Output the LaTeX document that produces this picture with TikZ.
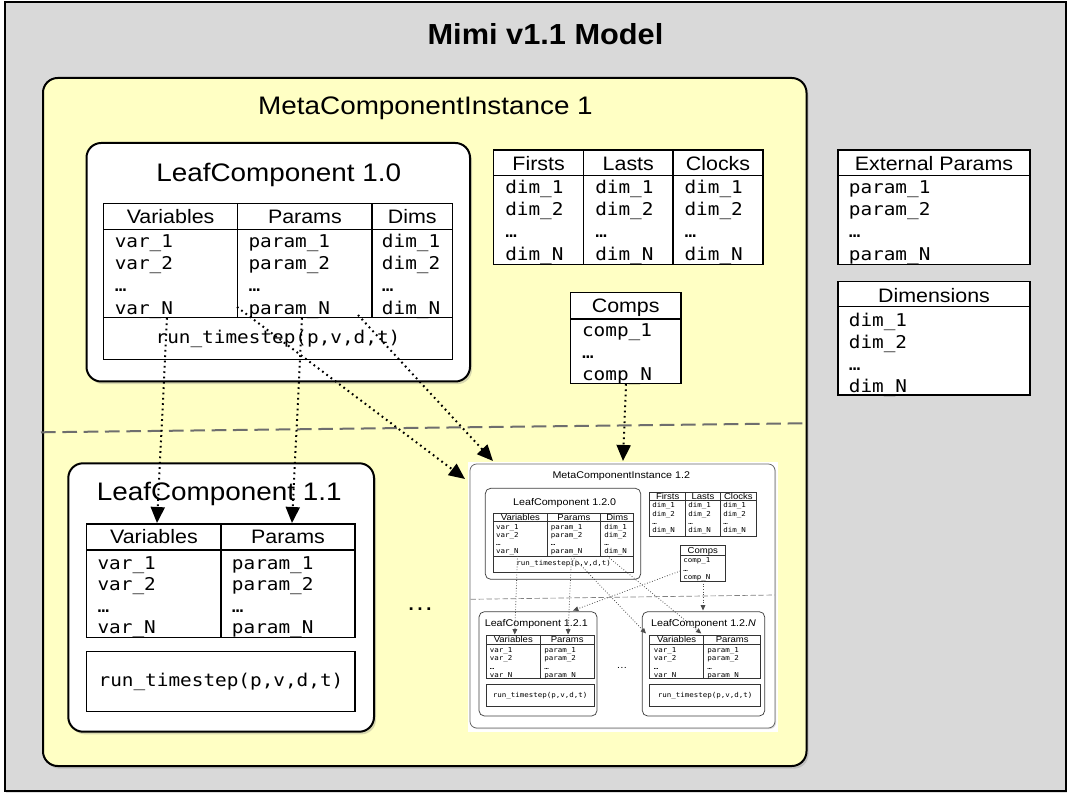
\documentclass[tikz,border=0pt]{standalone}
\usepackage{fontspec}
\setmainfont{Liberation Sans}
\newfontfamily\monof{DejaVu Sans Mono}
\usepackage{graphicx}
\usetikzlibrary{fit,shadows,arrows.meta}

\definecolor{outergray}{HTML}{D9D9D9}
\definecolor{mciyellow}{HTML}{FFFFC4}
\definecolor{dashgray}{HTML}{6E6E6E}

\newcommand\sxt[1]{\scalebox{1.1}[1]{#1}}
\newcommand\fTitle{\fontsize{21.75pt}{26pt}\selectfont\bfseries}
\newcommand\fBig{\fontsize{19pt}{23pt}\selectfont}
\newcommand\fHead{\fontsize{14.6pt}{17pt}\selectfont}
\newcommand\fMono{\monof\fontsize{13.2pt}{16pt}\selectfont}
\newcommand\fSBig{\fontsize{7.3pt}{9pt}\selectfont}
\newcommand\fSHead{\fontsize{6.5pt}{8pt}\selectfont}
\newcommand\fSMono{\monof\fontsize{5.1pt}{6pt}\selectfont}

\newcommand\itemrows[6]{\foreach \itm [count=\i] in {#6}{\node[#5, anchor=base west, inner sep=0pt] (#1\i) at (#2,{#3+(\i-1)*(#4)}) {\sxt{\itm}};}}

\begin{document}
\begin{tikzpicture}[x=0.75pt,y=-0.75pt,
  outerbox/.style={draw, line width=1.5pt, fill=outergray, inner sep=0pt,
    drop shadow={shadow xshift=1pt, shadow yshift=-2pt, opacity=0.25}},
  mcibox/.style={draw, line width=1.5pt, fill=mciyellow, rounded corners=11pt, inner sep=0pt,
    drop shadow={shadow xshift=1.5pt, shadow yshift=-2pt, opacity=0.3}},
  leafbox/.style={draw, line width=1.5pt, fill=white, rounded corners=11pt, inner sep=0pt,
    drop shadow={shadow xshift=1.5pt, shadow yshift=-2pt, opacity=0.3}},
  cell/.style={draw, line width=1.1pt, fill=white, inner sep=0pt},
  tline/.style={line width=1.1pt},
  sleaf/.style={draw=black!75, line width=0.55pt, fill=white, rounded corners=4pt, inner sep=0pt},
  scell/.style={draw=black!80, line width=0.45pt, fill=white, inner sep=0pt},
  stline/.style={draw=black!80, line width=0.45pt},
  sepline/.style={draw=dashgray, line width=1.5pt, dash pattern=on 11pt off 5pt},
  ssepline/.style={draw=black!50, line width=0.5pt, dash pattern=on 4pt off 2pt},
  link/.style={line width=1.5pt, dash pattern=on 1.3pt off 2.7pt, -{Triangle[length=12pt,width=10.5pt]}},
  slink/.style={draw=black!70, line width=0.6pt, dash pattern=on 0.6pt off 1.4pt, -{Triangle[length=4pt,width=3.5pt]}},
  big/.style={font=\fBig, inner sep=0pt},
  hd/.style={font=\fHead, anchor=base, inner sep=0pt},
  mono/.style={font=\fMono},
  shd/.style={font=\fSHead, anchor=base, inner sep=0pt},
  smono/.style={font=\fSMono},
]
\useasboundingbox (0,0) rectangle (1072,802);
\fill[white] (0,0) rectangle (1072,802);

% outer model box
\node[outerbox, fit={(4.5,2)(1065.5,790.5)}] (model) {};
\node[font=\fTitle, inner sep=0pt] (title) at (545.5,34.5) {\scalebox{1.06}[1]{Mimi v1.1 Model}};

% MetaComponentInstance 1
\node[mcibox, fit={(43,78)(806.5,766)}] (mci1) {};
\node[big, anchor=base] (mci1t) at (425.5,114.3) {\sxt{MetaComponentInstance 1}};

% separator
\coordinate (sepL) at (41,432.3);
\coordinate (sepR) at (805.5,423.3);
\draw[sepline] (sepL) -- (sepR);

% LeafComponent 1.0
\node[leafbox, fit={(86.5,143)(470,381.5)}] (lc10) {};
\node[big, anchor=base] (lc10t) at (278.7,181.7) {\sxt{LeafComponent 1.0}};
\node[cell, fit={(103.5,203.5)(452.5,229.5)}] (lc10h) {};
\node[cell, fit={(103.5,229.5)(452.5,317.5)}] (lc10b) {};
\node[cell, fit={(103.5,317.5)(452.5,359.5)}] (lc10r) {};
\draw[tline] (237.7,203.5) -- (237.7,317.5);
\draw[tline] (372,203.5) -- (372,317.5);
\node[hd] (lc10h1) at (170.6,223.3) {\sxt{Variables}};
\node[hd] (lc10h2) at (304.9,223.3) {\sxt{Params}};
\node[hd] (lc10h3) at (412.3,223.3) {\sxt{Dims}};
\itemrows{lc10v}{114.5}{247.5}{22.2}{mono}{var\_1,var\_2,…,var\_N}
\itemrows{lc10p}{248.3}{247.5}{22.2}{mono}{param\_1,param\_2,…,param\_N}
\itemrows{lc10d}{381.7}{247.5}{22.2}{mono}{dim\_1,dim\_2,…,dim\_N}
\node[font=\fMono, inner sep=0pt] (lc10rt) at (278,338.5) {\sxt{run\_timestep(p,v,d,t)}};

% LeafComponent 1.1
\node[leafbox, fit={(68.3,463.3)(374,731.7)}] (lc11) {};
\node[big, anchor=base] (lc11t) at (219.2,500) {\sxt{LeafComponent 1.1}};
\node[cell, fit={(86.7,524)(355,550)}] (lc11h) {};
\node[cell, fit={(86.7,550)(355,637.7)}] (lc11b) {};
\draw[tline] (221,524) -- (221,637.7);
\node[hd] (lc11h1) at (153.9,543.3) {\sxt{Variables}};
\node[hd] (lc11h2) at (288,543.3) {\sxt{Params}};
\itemrows{lc11v}{97.3}{569}{21.5}{mono}{var\_1,var\_2,…,var\_N}
\itemrows{lc11p}{231.7}{569}{21.5}{mono}{param\_1,param\_2,…,param\_N}
\node[cell, fit={(86.7,651.7)(355,711.7)}] (lc11r) {};
\node[font=\fMono, inner sep=0pt] (lc11rt) at (221,682) {\sxt{run\_timestep(p,v,d,t)}};

\node[big, anchor=base] (dots) at (420,610) {\sxt{…}};

% Firsts / Lasts / Clocks
\node[cell, fit={(493.6,150)(763.2,175.7)}] (flch) {};
\node[cell, fit={(493.6,175.7)(763.2,264.3)}] (flcb) {};
\draw[tline] (583.6,150) -- (583.6,264.3);
\draw[tline] (672.9,150) -- (672.9,264.3);
\node[hd] (flch1) at (538.6,170.7) {\sxt{Firsts}};
\node[hd] (flch2) at (628.3,170.7) {\sxt{Lasts}};
\node[hd] (flch3) at (718,170.7) {\sxt{Clocks}};
\itemrows{fst}{505}{193.5}{22.2}{mono}{dim\_1,dim\_2,…,dim\_N}
\itemrows{lst}{595}{193.5}{22.2}{mono}{dim\_1,dim\_2,…,dim\_N}
\itemrows{clk}{684.3}{193.5}{22.2}{mono}{dim\_1,dim\_2,…,dim\_N}

% Comps
\node[cell, fit={(570.4,292.7)(681,319)}] (compsh) {};
\node[cell, fit={(570.4,319)(681,383.3)}] (compsb) {};
\node[hd] (compsht) at (625.7,312.3) {\sxt{Comps}};
\itemrows{cmp}{581.8}{337}{22}{mono}{comp\_1,…,comp\_N}

% External Params
\node[cell, fit={(838,150)(1030,175.7)}] (exth) {};
\node[cell, fit={(838,175.7)(1030,264.3)}] (extb) {};
\node[hd] (extht) at (934,170.7) {\sxt{External Params}};
\itemrows{ext}{848.6}{193.5}{22.2}{mono}{param\_1,param\_2,…,param\_N}

% Dimensions
\node[cell, fit={(838,281.7)(1030,306.7)}] (dimh) {};
\node[cell, fit={(838,306.7)(1030,395)}] (dimb) {};
\node[hd] (dimht) at (934,302.3) {\sxt{Dimensions}};
\itemrows{dms}{848.6}{326.5}{21.9}{mono}{dim\_1,dim\_2,…,dim\_N}

% ---------- MetaComponentInstance 1.2 (miniature) ----------
\node[fill=white, inner sep=0pt, fit={(468,462)(778,731.5)}] (mci12bg) {};
\node[draw=black!60, line width=0.6pt, fill=white, rounded corners=5pt, inner sep=0pt,
  drop shadow={shadow xshift=0.8pt, shadow yshift=-0.8pt, opacity=0.3},
  fit={(470,464)(775,728)}] (mci12) {};
\node[font=\fSBig, anchor=base, inner sep=0pt] (mci12t) at (621.3,478.5) {\sxt{MetaComponentInstance 1.2}};

% LC 1.2.0
\node[sleaf, fit={(485.3,488.3)(640.7,579.3)}] (s120) {};
\node[font=\fSBig, anchor=base, inner sep=0pt] (s120t) at (564.7,505.8) {\sxt{LeafComponent 1.2.0}};
\node[scell, fit={(493.7,513.3)(633.7,521.7)}] (s120h) {};
\node[scell, fit={(493.7,521.7)(633.7,556)}] (s120b) {};
\node[scell, fit={(493.7,556)(633.7,572.3)}] (s120r) {};
\draw[stline] (547,513.3) -- (547,556);
\draw[stline] (600.7,513.3) -- (600.7,556);
\node[shd] (s120h1) at (520.4,520) {\sxt{Variables}};
\node[shd] (s120h2) at (573.9,520) {\sxt{Params}};
\node[shd] (s120h3) at (617.2,520) {\sxt{Dims}};
\itemrows{s120v}{495.8}{529}{8.3}{smono}{var\_1,var\_2,…,var\_N}
\itemrows{s120p}{550.5}{529}{8.3}{smono}{param\_1,param\_2,…,param\_N}
\itemrows{s120d}{604}{529}{8.3}{smono}{dim\_1,dim\_2,…,dim\_N}
\node[font=\fSMono, inner sep=0pt] (s120rt) at (563.7,564) {\sxt{run\_timestep(p,v,d,t)}};

% small Firsts / Lasts / Clocks
\node[scell, fit={(649.7,492.3)(756.3,500.7)}] (sflch) {};
\node[scell, fit={(649.7,500.7)(756.3,536)}] (sflcb) {};
\draw[stline] (685.7,492.3) -- (685.7,536);
\draw[stline] (720.3,492.3) -- (720.3,536);
\node[shd] (sflch1) at (667.7,499) {\sxt{Firsts}};
\node[shd] (sflch2) at (703,499) {\sxt{Lasts}};
\node[shd] (sflch3) at (738.3,499) {\sxt{Clocks}};
\itemrows{sfst}{652}{508}{8.3}{smono}{dim\_1,dim\_2,…,dim\_N}
\itemrows{slst}{688.2}{508}{8.3}{smono}{dim\_1,dim\_2,…,dim\_N}
\itemrows{sclk}{723}{508}{8.3}{smono}{dim\_1,dim\_2,…,dim\_N}

% small Comps
\node[scell, fit={(680.3,545.7)(725.3,555)}] (scompsh) {};
\node[scell, fit={(680.3,555)(725.3,581)}] (scompsb) {};
\node[shd] (scompsht) at (702.8,553.5) {\sxt{Comps}};
\itemrows{scmp}{683}{562.5}{8.5}{smono}{comp\_1,…,comp\_N}

% small separator
\coordinate (ssepL) at (470.5,599.3);
\coordinate (ssepR) at (774.5,595);
\draw[ssepline] (ssepL) -- (ssepR);

% LC 1.2.1
\node[sleaf, fit={(479,611.7)(597,716)}] (s121) {};
\node[font=\fSBig, anchor=base, inner sep=0pt] (s121t) at (536.3,626.8) {\sxt{LeafComponent 1.2.1}};
\node[scell, fit={(486.3,635)(594,644.3)}] (s121h) {};
\node[scell, fit={(486.3,644.3)(594,678.3)}] (s121b) {};
\draw[stline] (540.3,635) -- (540.3,678.3);
\node[shd] (s121h1) at (513.3,642.5) {\sxt{Variables}};
\node[shd] (s121h2) at (567.2,642.5) {\sxt{Params}};
\itemrows{s121v}{489.7}{652.4}{8.3}{smono}{var\_1,var\_2,…,var\_N}
\itemrows{s121p}{544}{652.4}{8.3}{smono}{param\_1,param\_2,…,param\_N}
\node[scell, fit={(486.3,684.3)(594,706.7)}] (s121r) {};
\node[font=\fSMono, inner sep=0pt] (s121rt) at (540.2,695.5) {\sxt{run\_timestep(p,v,d,t)}};

% LC 1.2.N
\node[sleaf, fit={(642.3,611.7)(764.7,716)}] (s12n) {};
\node[font=\fSBig, anchor=base, inner sep=0pt] (s12nt) at (703.5,626.8) {\sxt{LeafComponent 1.2.\textit{N}}};
\node[scell, fit={(649.7,635)(760.7,644.3)}] (s12nh) {};
\node[scell, fit={(649.7,644.3)(760.7,678.3)}] (s12nb) {};
\draw[stline] (703.7,635) -- (703.7,678.3);
\node[shd] (s12nh1) at (676.7,642.5) {\sxt{Variables}};
\node[shd] (s12nh2) at (732.2,642.5) {\sxt{Params}};
\itemrows{s12nv}{653.7}{652.4}{8.3}{smono}{var\_1,var\_2,…,var\_N}
\itemrows{s12np}{707}{652.4}{8.3}{smono}{param\_1,param\_2,…,param\_N}
\node[scell, fit={(649.7,684.3)(760.7,706.7)}] (s12nr) {};
\node[font=\fSMono, inner sep=0pt] (s12nrt) at (705.2,695.5) {\sxt{run\_timestep(p,v,d,t)}};

\node[font=\fSBig, anchor=base, inner sep=0pt] (sdots) at (622,668) {\sxt{…}};

% small links
\coordinate (i1s) at (517.5,556);   \coordinate (i1e) at (514.7,634.5);
\coordinate (i2s) at (571.5,556);   \coordinate (i2e) at (568,634.5);
\coordinate (i3s) at (680.3,571);   \coordinate (i3e) at (573,610.5);
\coordinate (i4s) at (572,556);     \coordinate (i4e) at (646,633.5);
\coordinate (i5s) at (607,556);     \coordinate (i5e) at (701.3,633.5);
\coordinate (i6s) at (703,581);     \coordinate (i6e) at (703,610.5);
\draw[slink] (i1s) -- (i1e);
\draw[slink] (i2s) -- (i2e);
\draw[slink] (i3s) -- (i3e);
\draw[slink] (i4s) -- (i4e);
\draw[slink] (i5s) -- (i5e);
\draw[slink] (i6s) -- (i6e);

% main links
\coordinate (c1s) at (167,318);  \coordinate (c1e) at (157,523);
\coordinate (c2s) at (302,318);  \coordinate (c2e) at (292,523);
\coordinate (c3s) at (237,307);  \coordinate (c3e) at (465,479);
\coordinate (c4s) at (358,315);  \coordinate (c4e) at (493,461);
\coordinate (c5s) at (626,384);  \coordinate (c5e) at (623,461);
\draw[link] (c1s) -- (c1e);
\draw[link] (c2s) -- (c2e);
\draw[link] (c3s) -- (c3e);
\draw[link] (c4s) -- (c4e);
\draw[link] (c5s) -- (c5e);
\end{tikzpicture}
\end{document}
